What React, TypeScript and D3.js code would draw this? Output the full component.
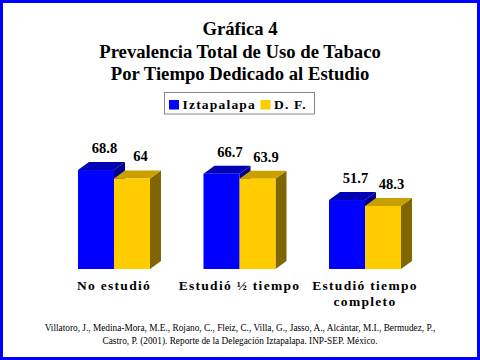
import * as d3 from "d3";

const categories = ["No estudió", "Estudió ½ tiempo", "Estudió tiempo completo"];
const categoryLines = [["No estudió"], ["Estudió ½ tiempo"], ["Estudió tiempo", "completo"]];
const seriesNames = ["Iztapalapa", "D. F."];
const iztapalapa = [68.8, 66.7, 51.7];
const df = [64, 63.9, 48.3];
const titleLines = ["Gráfica 4", "Prevalencia Total de Uso de Tabaco", "Por Tiempo Dedicado al Estudio"];
const sourceLines = [
  "Villatoro, J., Medina-Mora, M.E., Rojano, C., Fleiz, C., Villa, G., Jasso, A., Alcántar, M.I., Bermudez, P.,",
  "Castro, P. (2001). Reporte de la Delegación Iztapalapa. INP-SEP. México.",
];

const W = 480;
const H = 360;
const serif = "'Liberation Serif', 'Times New Roman', serif";

const palette = [
  { front: "#0000ff", top: "#0000b4", side: "#00008c" },
  { front: "#ffcc00", top: "#c9a000", side: "#806600" },
];

export default function App() {
  const series = [iztapalapa, df];
  const floorY = 269;
  const dx = 11;
  const dy = 8;

  const x = d3.scaleBand().domain(categories).range([51.25, 427.75]).paddingInner(0.4263).paddingOuter(0.213);
  const xs = d3.scaleBand().domain(seriesNames).range([0, x.bandwidth()]).padding(0);
  const y = d3.scaleLinear().domain([0, 80]).range([290.7, 150.4]);
  const bw = xs.bandwidth();

  return (
    <svg width={W} height={H} style={{ position: "absolute", left: 0, top: 0, background: "#fff" }}>
      <rect x={1.5} y={1.5} width={W - 3} height={H - 3} fill="#fff" stroke="#0000ff" strokeWidth={3} />
      {titleLines.map((t, i) => (
        <text key={t} x={240} y={35 + i * 22.5} textAnchor="middle" fontFamily={serif} fontWeight="bold" fontSize={18.7} fill="#000">
          {t}
        </text>
      ))}
      {/* legend */}
      <rect x={164.5} y={92.5} width={150} height={21.5} fill="#fff" stroke="#888" strokeWidth={1} />
      {seriesNames.map((s, i) => {
        const lx = [169, 260.5][i];
        return (
          <g key={s}>
            <rect x={lx} y={100} width={10} height={9.5} fill={palette[i].front} />
            <text x={lx + 13.5} y={109} fontFamily={serif} fontWeight="bold" fontSize={13.5} letterSpacing={1.2} fill="#000">
              {s}
            </text>
          </g>
        );
      })}
      {/* bars, drawn back to front */}
      {categories.map((c, ci) => (
        <g key={c}>
          {seriesNames.map((s, si) => {
            const v = series[si][ci];
            const x0 = (x(c) || 0) + (xs(s) || 0);
            const yt = y(v);
            const col = palette[si];
            return (
              <g key={s}>
                <polygon
                  points={`${x0 + bw},${yt} ${x0 + bw + dx},${yt - dy} ${x0 + bw + dx},${floorY - dy} ${x0 + bw},${floorY}`}
                  fill={col.side}
                />
                <polygon
                  points={`${x0},${yt} ${x0 + dx},${yt - dy} ${x0 + bw + dx},${yt - dy} ${x0 + bw},${yt}`}
                  fill={col.top}
                />
                <rect x={x0} y={yt} width={bw} height={floorY - yt} fill={col.front} />
                <text
                  x={x0 + bw / 2 + dx / 2 + 3}
                  y={yt - dy - 9}
                  textAnchor="middle"
                  fontFamily={serif}
                  fontWeight="bold"
                  fontSize={14.5}
                  fill="#000"
                >
                  {v}
                </text>
              </g>
            );
          })}
          {categoryLines[ci].map((t, li) => (
            <text
              key={t}
              x={(x(c) || 0) + x.bandwidth() / 2}
              y={290 + li * 16}
              textAnchor="middle"
              fontFamily={serif}
              fontWeight="bold"
              fontSize={13.5}
              letterSpacing={1.3}
              fill="#000"
            >
              {t}
            </text>
          ))}
        </g>
      ))}
      {sourceLines.map((t, i) => (
        <text key={i} x={240} y={331 + i * 12.5} textAnchor="middle" fontFamily={serif} fontSize={9.3} fill="#000">
          {t}
        </text>
      ))}
    </svg>
  );
}
